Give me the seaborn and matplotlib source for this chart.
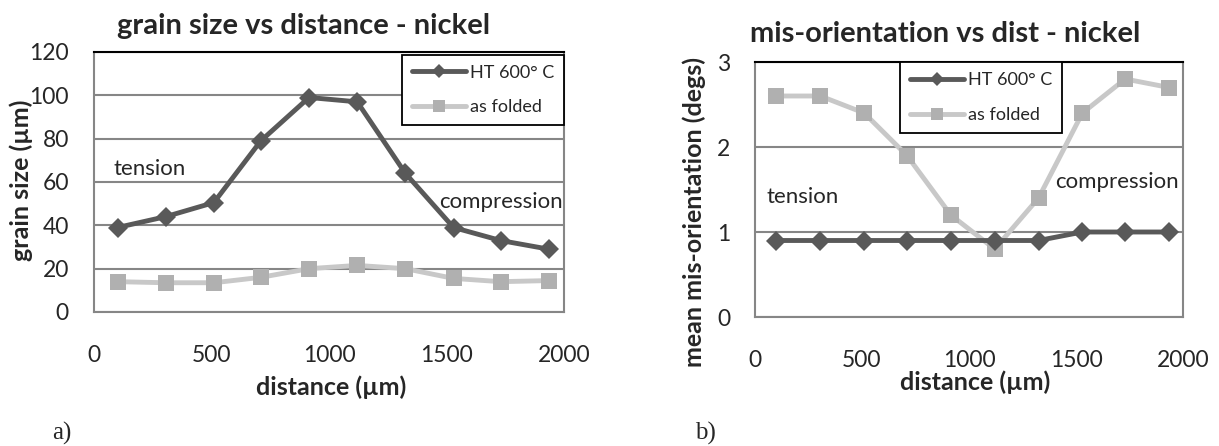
import matplotlib
matplotlib.use("Agg")
import matplotlib.pyplot as plt
import seaborn as sns
from matplotlib.lines import Line2D

# Data
distance = [100, 305, 510, 710, 915, 1120, 1325, 1530, 1730, 1935]

grain_ht = [39, 44, 50.5, 79, 99, 97, 64, 39, 33, 29]
grain_folded = [14, 13.5, 13.5, 16, 20, 21.5, 20, 15.5, 14, 14.5]

misor_ht = [0.9, 0.9, 0.9, 0.9, 0.9, 0.9, 0.9, 1.0, 1.0, 1.0]
misor_folded = [2.6, 2.6, 2.4, 1.9, 1.2, 0.8, 1.4, 2.4, 2.8, 2.7]

series_names = ["HT 600° C", "as folded"]

dark = "#595959"
light_line = "#c8c8c8"
light_mark = "#b0b0b0"
grid_col = "#868686"

sns.set_style("white")
plt.rcParams['font.family'] = ['Lato', 'DejaVu Sans']

W, H = 1219, 446
fig = plt.figure(figsize=(W / 100, H / 100), dpi=100)

ax1 = fig.add_axes([94 / W, 1 - 312 / H, 470 / W, 260 / H])
ax2 = fig.add_axes([755 / W, 1 - 317 / H, 428 / W, 255 / H])


def draw(ax, ht, folded):
    sns.lineplot(x=distance, y=folded, ax=ax, color=light_line, linewidth=3.5,
                 marker='s', markersize=12, markerfacecolor=light_mark,
                 markeredgewidth=0, zorder=3)
    sns.lineplot(x=distance, y=ht, ax=ax, color=dark, linewidth=3.5,
                 marker='D', markersize=10, markeredgewidth=0, zorder=4)
    ax.set_xlim(0, 2000)
    ax.set_xticks([0, 500, 1000, 1500, 2000])
    ax.yaxis.grid(True, color=grid_col, linewidth=1.5)
    ax.xaxis.grid(False)
    ax.set_axisbelow(True)
    for side in ["left", "right", "bottom"]:
        ax.spines[side].set_color(grid_col)
        ax.spines[side].set_linewidth(1.5)
    ax.spines["top"].set_color("black")
    ax.spines["top"].set_linewidth(1.5)
    ax.tick_params(axis='y', length=0, pad=18, labelsize=16.5)
    ax.tick_params(axis='x', labelsize=16.5)
    handles = [
        Line2D([], [], color=dark, lw=3.5, marker='D', markersize=7, markeredgewidth=0),
        Line2D([], [], color=light_line, lw=3.5, marker='s', markersize=9,
               markerfacecolor=light_mark, markeredgewidth=0),
    ]
    return handles


def add_legend(ax, handles, **kw):
    leg = ax.legend(handles, series_names, borderaxespad=0, fontsize=13,
                    handlelength=3.0, frameon=True, fancybox=False, framealpha=1,
                    edgecolor='black', labelspacing=1.05, handletextpad=0.2,
                    borderpad=0.55, **kw)
    leg.get_frame().set_linewidth(1.3)


h = draw(ax1, grain_ht, grain_folded)
ax1.set_ylim(0, 120)
ax1.set_yticks(range(0, 121, 20))
ax1.tick_params(axis='x', length=0, pad=24)
add_legend(ax1, h, loc='upper right', bbox_to_anchor=(1.0, 0.99))
ax1.text(82, 66, "tension", fontsize=16, va='center', ha='left')
ax1.text(1470, 51, "compression", fontsize=16, va='center', ha='left')

h = draw(ax2, misor_ht, misor_folded)
ax2.set_ylim(0, 3)
ax2.set_yticks([0, 1, 2, 3])
ax2.tick_params(axis='x', direction='in', length=7, width=1.5, color=grid_col, pad=24)
add_legend(ax2, h, loc='upper left', bbox_to_anchor=(0.339, 1.0))
ax2.text(54, 1.41, "tension", fontsize=16, va='center', ha='left')
ax2.text(1401, 1.59, "compression", fontsize=16, va='center', ha='left')

# titles and axis labels
fig.text(304 / W, 1 - 26 / H, "grain size vs distance - nickel", ha='center', va='center',
         fontsize=21, fontweight='bold')
fig.text(945 / W, 1 - 34 / H, "mis-orientation vs dist - nickel", ha='center', va='center',
         fontsize=21, fontweight='bold')
fig.text(331 / W, 1 - 387 / H, "distance (µm)", ha='center', va='center',
         fontsize=18, fontweight='bold')
fig.text(975 / W, 1 - 382 / H, "distance (µm)", ha='center', va='center',
         fontsize=18, fontweight='bold')
fig.text(21 / W, 1 - 180 / H, "grain size (µm)", ha='center', va='center',
         fontsize=18, fontweight='bold', rotation=90)
fig.text(694 / W, 1 - 212 / H, "mean mis-orientation (degs)", ha='center', va='center',
         fontsize=18, fontweight='bold', rotation=90)

fig.text(62 / W, 1 - 433 / H, "a)", ha='center', va='center', fontsize=18,
         family='Liberation Serif')
fig.text(705 / W, 1 - 433 / H, "b)", ha='center', va='center', fontsize=18,
         family='Liberation Serif')

fig.savefig("out.png", dpi=100)
